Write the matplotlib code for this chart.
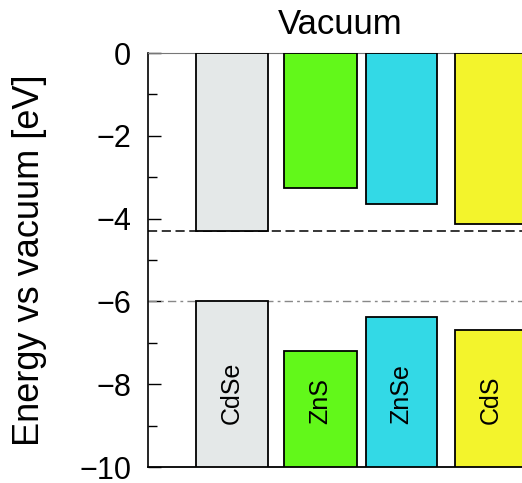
import matplotlib
matplotlib.use('Agg')
import matplotlib.pyplot as plt
from matplotlib.ticker import MultipleLocator

plt.rcParams['font.family'] = ['Liberation Sans', 'DejaVu Sans']

# band edges vs vacuum (eV)
materials = ['CdSe', 'ZnS', 'ZnSe', 'CdS']
cb_edge = [-4.3, -3.25, -3.65, -4.13]   # conduction band minimum
vb_edge = [-6.0, -7.2, -6.37, -6.68]    # valence band maximum
colors = ['#e4e8e8', '#62f81a', '#33d9e6', '#f3f42c']
ref_levels = [-4.3, -6.0]

# layout (axis units ~ pixels from the left spine)
centers = [84, 172.5, 253.5, 343]
widths = [72, 73, 71, 72]
y_bottom = -10

fig = plt.figure(figsize=(5.22, 4.83), dpi=100)
ax = fig.add_axes([148 / 522, 16 / 483, 452 / 522, 414 / 483])

for i in range(len(materials)):
    # conduction band: from vacuum (0) down to CBM
    ax.bar(centers[i], cb_edge[i], width=widths[i], bottom=0,
           color=colors[i], edgecolor='black', linewidth=1.3, zorder=3)
    # valence band: from VBM down to bottom
    ax.bar(centers[i], y_bottom - vb_edge[i], width=widths[i], bottom=vb_edge[i],
           color=colors[i], edgecolor='black', linewidth=1.3, zorder=3)
    ax.text(centers[i], -8.95, materials[i], rotation=90, ha='center', va='bottom',
            fontsize=18, zorder=4)

ax.axhline(ref_levels[0], color='black', linestyle=(0, (6, 3)), linewidth=1.1, zorder=2)
ax.axhline(ref_levels[1], color='#888888', linestyle=(0, (6, 3, 2, 3)), linewidth=1.0, zorder=2)

ax.set_xlim(0, 452)
ax.set_ylim(-10, 0)
ax.set_xticks([])
ax.yaxis.set_major_locator(MultipleLocator(2))
ax.yaxis.set_minor_locator(MultipleLocator(1))
ax.tick_params(axis='y', which='major', direction='in', length=9, width=1.0, pad=12,
               labelsize=22)
ax.tick_params(axis='y', which='minor', direction='in', length=6.5, width=1.0)

ax.spines['right'].set_visible(False)
ax.spines['top'].set_color('#777777')
ax.spines['left'].set_linewidth(1.2)
ax.spines['bottom'].set_linewidth(1.3)

ax.set_ylabel('Energy vs vacuum [eV]', fontsize=26)
ax.yaxis.set_label_coords(-0.223, 0.5)
fig.text(340 / 522, 1 - 24 / 483, 'Vacuum', ha='center', va='center', fontsize=25)

fig.savefig('out.png', dpi=100)
